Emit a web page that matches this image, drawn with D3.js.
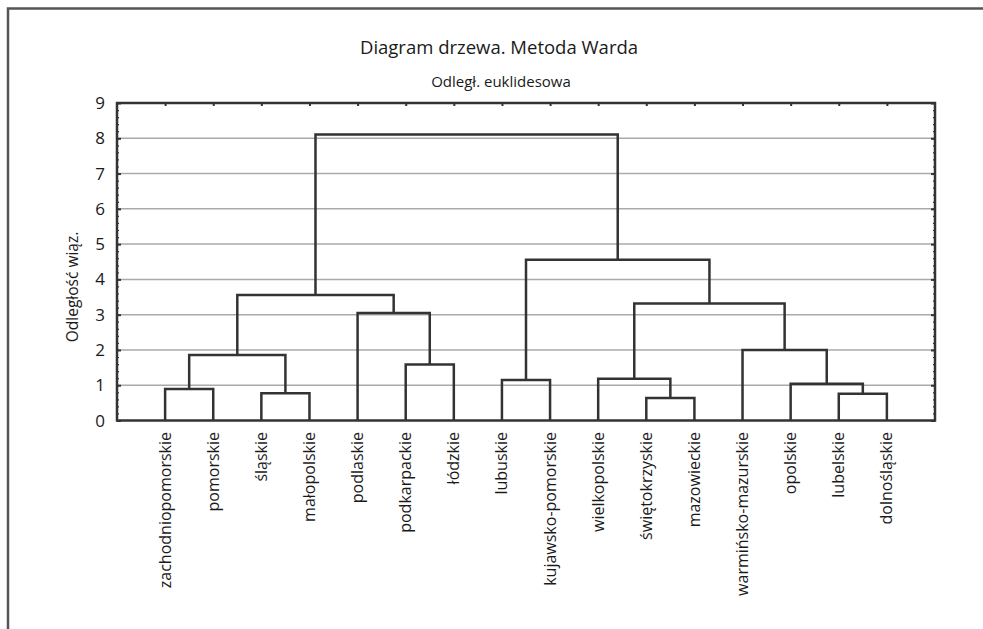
<!DOCTYPE html>
<html><head><meta charset="utf-8">
<script src="https://cdn.jsdelivr.net/npm/d3@7"></script>
<style>body{margin:0;background:#fff}svg{display:block}text{font-family:"Open Sans",sans-serif;fill:#1a1a1a}</style>
</head><body><svg id="c" width="983" height="629"></svg>
<script>
const title = "Diagram drzewa. Metoda Warda";
const subtitle = "Odległ. euklidesowa";
const yLabel = "Odległość wiąz.";
const leaves = ["zachodniopomorskie","pomorskie","śląskie","małopolskie","podlaskie","podkarpackie","łódzkie","lubuskie","kujawsko-pomorskie","wielkopolskie","świętokrzyskie","mazowieckie","warmińsko-mazurskie","opolskie","lubelskie","dolnośląskie"];
// merges: cluster ids 16.. in order; children refer to leaf index (<16) or previous cluster id
const mergeA = [10,14,2,0,13,7,9,5,19,12,4,22,24,21,28];
const mergeB = [11,15,3,1,17,8,16,6,18,20,23,25,26,27,29];
const mergeH = [0.64,0.76,0.77,0.89,1.04,1.15,1.18,1.59,1.86,2.00,3.05,3.32,3.56,4.56,8.11];
const yTicks = [0,1,2,3,4,5,6,7,8,9];

const svg = d3.select("#c");
const L = 117, R = 935, T = 103, B = 420.5;
const x = d3.scalePoint().domain(leaves).range([L, R]).padding(1);
const y = d3.scaleLinear().domain([0, 9]).range([B, T]);

// outer frame (top + left)
svg.append("path").attr("d", `M8,629 V8.5 H983`).attr("fill","none").attr("stroke","#555").attr("stroke-width",2.5);

svg.append("text").attr("x",499).attr("y",54).attr("text-anchor","middle").attr("font-size",18.5).text(title);
svg.append("text").attr("x",501).attr("y",87).attr("text-anchor","middle").attr("font-size",15).text(subtitle);

// gridlines
svg.append("g").selectAll("line").data(yTicks.filter(d=>d>0&&d<9)).join("line")
  .attr("x1",L).attr("x2",R).attr("y1",d=>y(d)).attr("y2",d=>y(d))
  .attr("stroke","#aaa").attr("stroke-width",1.5);

// axes
const minor = d3.range(0, 9.001, 0.2);
const gl = svg.append("g").attr("transform",`translate(${L},0)`)
  .call(d3.axisRight(y).tickValues(minor).tickSize(2).tickFormat(""));
gl.select(".domain").remove();
gl.selectAll("line").attr("stroke","#333").attr("stroke-width",1.2);
const gl2 = svg.append("g").attr("transform",`translate(${L},0)`)
  .call(d3.axisRight(y).tickValues(yTicks).tickSize(4).tickFormat(""));
gl2.select(".domain").remove();
gl2.selectAll("line").attr("stroke","#333").attr("stroke-width",2);
const gr = svg.append("g").attr("transform",`translate(${R},0)`)
  .call(d3.axisLeft(y).tickValues(minor).tickSize(2).tickFormat(""));
gr.select(".domain").remove();
gr.selectAll("line").attr("stroke","#333").attr("stroke-width",1.2);
const gr2 = svg.append("g").attr("transform",`translate(${R},0)`)
  .call(d3.axisLeft(y).tickValues(yTicks).tickSize(4).tickFormat(""));
gr2.select(".domain").remove();
gr2.selectAll("line").attr("stroke","#333").attr("stroke-width",2);
const gt = svg.append("g").attr("transform",`translate(0,${T})`)
  .call(d3.axisBottom(x).tickSize(3).tickFormat(""));
gt.select(".domain").remove();
gt.selectAll("line").attr("stroke","#333").attr("stroke-width",2);

// y tick labels
svg.append("g").selectAll("text").data(yTicks).join("text")
  .attr("x",105).attr("y",d=>y(d)+6).attr("text-anchor","end").attr("font-size",17).text(d=>d);

svg.append("text").attr("transform","translate(78,287) rotate(-90)").attr("text-anchor","middle").attr("font-size",15.5).text(yLabel);

// leaf labels
svg.append("g").selectAll("text").data(leaves).join("text")
  .attr("transform",d=>`translate(${x(d)+5.5},432) rotate(-90)`).attr("text-anchor","end").attr("font-size",16).text(d=>d);

// dendrogram
const pos = leaves.map(d => ({x: x(d), h: 0}));
const links = [];
mergeA.forEach((a, i) => {
  const b = mergeB[i], h = mergeH[i];
  const pa = pos[a], pb = pos[b];
  links.push({x1: pa.x, h1: pa.h, x2: pb.x, h2: pb.h, h});
  pos.push({x: (pa.x + pb.x) / 2, h});
});
svg.append("g").selectAll("path").data(links).join("path")
  .attr("d", d => `M${d.x1},${y(d.h1)} V${y(d.h)} H${d.x2} V${y(d.h2)}`)
  .attr("fill","none").attr("stroke","#333").attr("stroke-width",2.5).attr("stroke-linejoin","miter");

// plot frame
svg.append("rect").attr("x",L).attr("y",T).attr("width",R-L).attr("height",B-T)
  .attr("fill","none").attr("stroke","#333").attr("stroke-width",2.5);
</script></body></html>
